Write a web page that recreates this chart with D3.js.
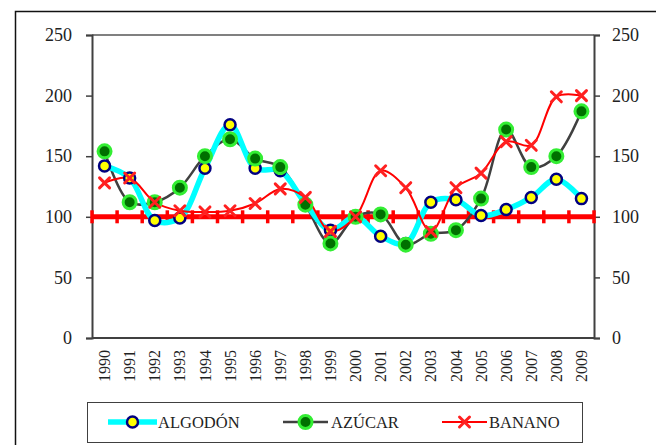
<!DOCTYPE html>
<html><head><meta charset="utf-8">
<script src="https://cdn.jsdelivr.net/npm/d3@7"></script>
<style>body{margin:0;background:#fff}svg{display:block}</style>
</head><body>
<svg id="c" width="656" height="445"></svg>
<script>
const years = ["1990","1991","1992","1993","1994","1995","1996","1997","1998","1999","2000","2001","2002","2003","2004","2005","2006","2007","2008","2009"];
const algodon = [142,132,97,99,140,176,140,138,111,89,100,84,78,112,114,101,106,116,131,115];
const azucar = [154,112,112,124,150,164,148,141,110,78,100,102,77,86,89,115,172,141,150,187];
const banano = [128,132,112,105,104,105,111,123,116,88,100,138,124,88,124,136,162,159,199,200];
const base = [100,100,100,100,100,100,100,100,100,100,100,100,100,100,100,100,100,100,100,100,100];
const yTicks = [0,50,100,150,200,250];
const legendNames = ["ALGODÓN","AZÚCAR","BANANO"];

const FONT = '"Liberation Serif"';
const svg = d3.select("#c");
const L=92, R=594, T=35, B=338;
const x = d3.scaleBand().domain(years).range([L,R]);
const xb = d3.scaleLinear().domain([0,base.length-1]).range([L,R]);
const y = d3.scaleLinear().domain([0,250]).range([B,T]);
const cx = d => x(d)+x.bandwidth()/2;

// outer frame
svg.append("rect").attr("x",15.5).attr("y",11.5).attr("width",700).attr("height",500)
  .attr("fill","none").attr("stroke","#111").attr("stroke-width",1.5);

// plot frame top
svg.append("line").attr("x1",L).attr("x2",R).attr("y1",T).attr("y2",T).attr("stroke","#808080").attr("stroke-width",2);

// axes
const yl = svg.append("g").attr("transform",`translate(${L},0)`).call(d3.axisLeft(y).tickValues(yTicks).tickSize(6).tickPadding(14));
const yr = svg.append("g").attr("transform",`translate(${R},0)`).call(d3.axisRight(y).tickValues(yTicks).tickSize(6).tickPadding(12));
const xa = svg.append("g").attr("transform",`translate(0,${B})`).call(d3.axisBottom(x).tickSize(0).tickPadding(0));
[yl,yr,xa].forEach(g=>{
  g.attr("font-family",FONT);
  g.select(".domain").attr("stroke","#404040").attr("stroke-width",2);
  g.selectAll(".tick line").attr("stroke","#404040").attr("stroke-width",1.5);
  g.selectAll("text").attr("fill","#222").attr("font-family",FONT);
});
yl.selectAll("text").attr("font-size",18);
yr.selectAll("text").attr("font-size",18);
xa.selectAll("text").attr("font-size",16)
  .attr("transform","rotate(-90)").attr("text-anchor","end").attr("dy","0.35em")
  .attr("x",-12).attr("y",0);
xa.select(".domain").attr("d",`M${L},0H${R}`);

// 100 base line
svg.append("path").datum(base).attr("fill","none").attr("stroke","#ff0000").attr("stroke-width",5)
  .attr("d",d3.line().x((d,i)=>xb(i)).y(d=>y(d)));
svg.append("g").selectAll("rect").data(base).join("rect")
  .attr("x",(d,i)=>xb(i)-1.75).attr("y",d=>y(d)-6.5).attr("width",3.5).attr("height",13).attr("fill","#ff0000");

const curve = d3.curveCatmullRom.alpha(0.5);
const lineGen = d3.line().x((d,i)=>cx(years[i])).y(d=>y(d)).curve(curve);

svg.append("path").datum(azucar).attr("fill","none").attr("stroke","#404040").attr("stroke-width",2.5).attr("d",lineGen);
svg.append("path").datum(algodon).attr("fill","none").attr("stroke","#00ffff").attr("stroke-width",5.5).attr("d",lineGen);
svg.append("path").datum(banano).attr("fill","none").attr("stroke","#ff0000").attr("stroke-width",2).attr("d",lineGen);

function algMarker(g,px,py){g.append("circle").attr("cx",px).attr("cy",py).attr("r",5.5).attr("fill","#ffff00").attr("stroke","#000080").attr("stroke-width",2.5);}
function azuMarker(g,px,py){g.append("circle").attr("cx",px).attr("cy",py).attr("r",6.5).attr("fill","#007000").attr("stroke","#33ee33").attr("stroke-width",3);}
function banMarker(g,px,py){
  const s=5;
  g.append("path").attr("d",`M${px-s},${py-s}L${px+s},${py+s}M${px-s},${py+s}L${px+s},${py-s}`)
   .attr("stroke","#ff2020").attr("stroke-width",3).attr("stroke-linecap","round").attr("fill","none");
}
const gm = svg.append("g");
algodon.forEach((v,i)=>algMarker(gm,cx(years[i]),y(v)));
azucar.forEach((v,i)=>azuMarker(gm,cx(years[i]),y(v)));
banano.forEach((v,i)=>banMarker(gm,cx(years[i]),y(v)));

// legend
svg.append("rect").attr("x",87.5).attr("y",402.5).attr("width",495).attr("height",40)
  .attr("fill","#fff").attr("stroke","#404040").attr("stroke-width",1);
const lg = svg.append("g");
const ly = 422;
const items = [
  {x1:108,x2:157,stroke:"#00ffff",w:5.5,mk:algMarker,tx:158},
  {x1:283,x2:328,stroke:"#404040",w:2.5,mk:azuMarker,tx:331},
  {x1:442,x2:487,stroke:"#ff0000",w:2,mk:banMarker,tx:489}
];
items.forEach((it,k)=>{
  lg.append("line").attr("x1",it.x1).attr("x2",it.x2).attr("y1",ly).attr("y2",ly).attr("stroke",it.stroke).attr("stroke-width",it.w);
  it.mk(lg,(it.x1+it.x2)/2,ly);
  lg.append("text").attr("x",it.tx).attr("y",ly).attr("dy","0.35em").attr("font-family",FONT)
    .attr("font-size",16.5).attr("fill","#222").text(legendNames[k]);
});
</script>
</body></html>
